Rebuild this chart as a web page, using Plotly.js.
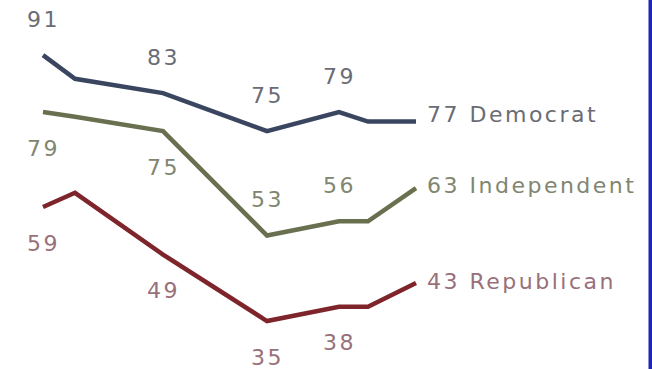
<!DOCTYPE html>
<html>
<head>
<meta charset="utf-8">
<script src="https://cdn.plot.ly/plotly-3.0.1.min.js"></script>
<style>
  html, body { margin: 0; padding: 0; background: #ffffff; }
  #chart { width: 652px; height: 369px; }
  .annotation-text { letter-spacing: 2.5px; }
</style>
</head>
<body>
<div id="chart"></div>
<script>
// Survey waves (relative time positions)
const waves = [0, 3.2, 12, 22.4, 29.6, 32.5, 37.3];

// Series values (%)
const democrat    = [91, 86, 83, 75, 79, 77, 77];
const independent = [79, 78, 75, 53, 56, 56, 63];
const republican  = [59, 62, 49, 35, 38, 38, 43];

// Series names
const seriesNames = ["Democrat", "Independent", "Republican"];

// Which points carry a value label
const labeledPoints = [0, 2, 3, 4];

const styles = {
  Democrat:    { line: "#3a4660", text: "#6a6c74", side: [1, 1, 1, 1],     endShift: 7 },
  Independent: { line: "#687050", text: "#80866f", side: [-1, -1, 1, 1],   endShift: 3 },
  Republican:  { line: "#7e252b", text: "#987079", side: [-1, -1, -1, -1], endShift: 2 }
};

const seriesData = { Democrat: democrat, Independent: independent, Republican: republican };

const traces = [];
const annotations = [];
const fontFam = "DejaVu Sans, Verdana, sans-serif";

seriesNames.forEach(name => {
  const vals = seriesData[name];
  const st = styles[name];
  traces.push({
    x: waves, y: vals, type: "scatter", mode: "lines", name: name,
    line: { color: st.line, width: 4.5, shape: "linear" },
    hoverinfo: "skip"
  });
  labeledPoints.forEach((idx, k) => {
    annotations.push({
      x: waves[idx], y: vals[idx], xref: "x", yref: "y",
      text: String(vals[idx]), showarrow: false,
      xanchor: "center", yanchor: "middle",
      yshift: 36 * st.side[k],
      font: { family: fontFam, size: 22, color: st.text }
    });
  });
  const last = vals.length - 1;
  annotations.push({
    x: waves[last], y: vals[last], xref: "x", yref: "y",
    text: vals[last] + " " + name, showarrow: false,
    xanchor: "left", yanchor: "middle",
    xshift: 9, yshift: st.endShift,
    font: { family: fontFam, size: 22, color: st.text }
  });
});

const layout = {
  width: 652, height: 369,
  margin: { l: 0, r: 0, t: 0, b: 0, pad: 0 },
  paper_bgcolor: "#ffffff", plot_bgcolor: "#ffffff",
  showlegend: false,
  xaxis: { range: [-4.3, 60.9], visible: false, showgrid: false, zeroline: false, fixedrange: true },
  yaxis: { range: [24.9, 102.6], visible: false, showgrid: false, zeroline: false, fixedrange: true },
  annotations: annotations,
  shapes: [{
    type: "rect", xref: "paper", yref: "paper",
    x0: 648.5 / 652, x1: 1, y0: 0, y1: 1,
    fillcolor: "#1c24c0", line: { width: 0 }
  }]
};

Plotly.newPlot("chart", traces, layout, { displayModeBar: false, staticPlot: true });
</script>
</body>
</html>
